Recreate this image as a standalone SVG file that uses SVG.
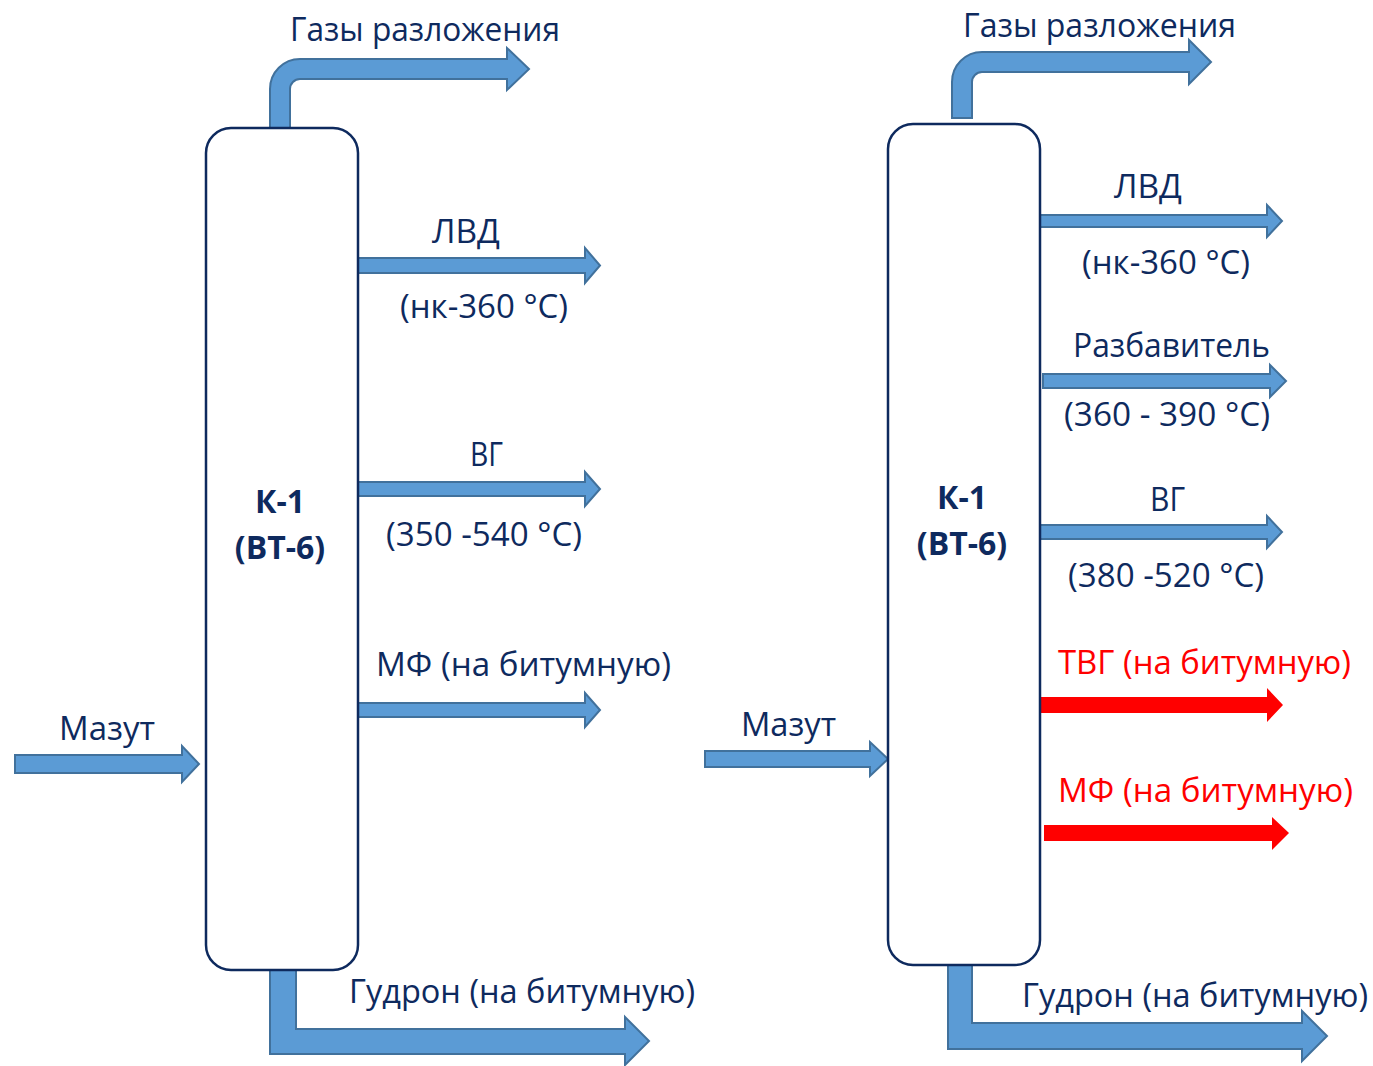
<svg xmlns="http://www.w3.org/2000/svg" width="1373" height="1066" viewBox="0 0 1373 1066">
<style>
.bg{fill:#ffffff}
.arr{fill:#5b9bd5;stroke:#41719c;stroke-width:2;stroke-linejoin:miter}
.red{fill:#ff0000;stroke:none}
.col{fill:#ffffff;stroke:#0e2a5e;stroke-width:2.5}
text{font-family:"Open Sans","Liberation Sans",sans-serif;font-size:32px;fill:#0e2a5e}
.b{font-weight:bold;text-anchor:middle}
.r{fill:#ff0000}
</style>
<rect class="bg" x="0" y="0" width="1373" height="1066"/>
<g id="connectors">
  <path class="arr" d="M270,128 V89 A30,30 0 0 1 300,59 H507 V48 L529,69 L507,90 V79 H300 A10,10 0 0 0 290,89 V128 Z"/>
  <path class="arr" d="M358,258 H585 V248 L600,265.5 L585,283 V273 H358 Z"/>
  <path class="arr" d="M358,482 H585 V472 L600,489 L585,506 V496 H358 Z"/>
  <path class="arr" d="M358,703 H585 V693 L600,710 L585,727 V717 H358 Z"/>
  <path class="arr" d="M15,755 H182 V746 L199,764 L182,782 V773 H15 Z"/>
  <path class="arr" d="M270,970 V1054 H625 V1065 L649,1041 L625,1017 V1029 H296 V970 Z"/>
  <path class="arr" d="M952,118 V82 A30,30 0 0 1 982,52 H1189 V40 L1211,62 L1189,84 V72 H982 A10,10 0 0 0 972,82 V118 Z"/>
  <path class="arr" d="M1040,215 H1267 V205 L1282,221 L1267,237 V227 H1040 Z"/>
  <path class="arr" d="M1043,374 H1270 V365 L1286,381 L1270,397 V388 H1043 Z"/>
  <path class="arr" d="M1040,525 H1267 V516 L1282,532 L1267,548 V539 H1040 Z"/>
  <path class="red" d="M1040,697 H1267 V688 L1283,705 L1267,722 V713 H1040 Z"/>
  <path class="red" d="M1044,825 H1272 V817 L1289,833 L1272,850 V841 H1044 Z"/>
  <path class="arr" d="M705,751 H870 V742 L888,759 L870,776 V767 H705 Z"/>
  <path class="arr" d="M948,965 V1049 H1302 V1061 L1327,1036 L1302,1011 V1023 H972 V965 Z"/>
</g>
<g id="column-left">
  <rect class="col" x="206" y="128" width="152" height="842" rx="25" ry="25"/>
  <text class="b" x="280" y="513">К-1</text>
  <text class="b" x="280" y="559">(ВТ-6)</text>
</g>
<g id="column-right">
  <rect class="col" x="888" y="124" width="152" height="841" rx="25" ry="25"/>
  <text class="b" x="962" y="509">К-1</text>
  <text class="b" x="962" y="555">(ВТ-6)</text>
</g>
<g id="labels-left">
  <text x="290" y="41" textLength="270" lengthAdjust="spacingAndGlyphs">Газы разложения</text>
  <text x="432" y="243" textLength="68" lengthAdjust="spacingAndGlyphs">ЛВД</text>
  <text x="400" y="318" textLength="168" lengthAdjust="spacingAndGlyphs">(нк-360 °C)</text>
  <text x="470" y="466" textLength="33" lengthAdjust="spacingAndGlyphs">ВГ</text>
  <text x="386" y="546" textLength="196" lengthAdjust="spacingAndGlyphs">(350 -540 °C)</text>
  <text x="376" y="676" textLength="295" lengthAdjust="spacingAndGlyphs">МФ (на битумную)</text>
  <text x="59" y="740" textLength="96" lengthAdjust="spacingAndGlyphs">Мазут</text>
  <text x="349" y="1003" textLength="346" lengthAdjust="spacingAndGlyphs">Гудрон (на битумную)</text>
</g>
<g id="labels-right">
  <text x="963" y="37" textLength="273" lengthAdjust="spacingAndGlyphs">Газы разложения</text>
  <text x="1114" y="198" textLength="68" lengthAdjust="spacingAndGlyphs">ЛВД</text>
  <text x="1082" y="274" textLength="168" lengthAdjust="spacingAndGlyphs">(нк-360 °C)</text>
  <text x="1073" y="357" textLength="197" lengthAdjust="spacingAndGlyphs">Разбавитель</text>
  <text x="1064" y="426" textLength="206" lengthAdjust="spacingAndGlyphs">(360 - 390 °C)</text>
  <text x="1150" y="511" textLength="35" lengthAdjust="spacingAndGlyphs">ВГ</text>
  <text x="1068" y="587" textLength="196" lengthAdjust="spacingAndGlyphs">(380 -520 °C)</text>
  <text class="r" x="1058" y="674" textLength="293" lengthAdjust="spacingAndGlyphs">ТВГ (на битумную)</text>
  <text class="r" x="1058" y="802" textLength="295" lengthAdjust="spacingAndGlyphs">МФ (на битумную)</text>
  <text x="741" y="736" textLength="95" lengthAdjust="spacingAndGlyphs">Мазут</text>
  <text x="1022" y="1007" textLength="346" lengthAdjust="spacingAndGlyphs">Гудрон (на битумную)</text>
</g>
</svg>
